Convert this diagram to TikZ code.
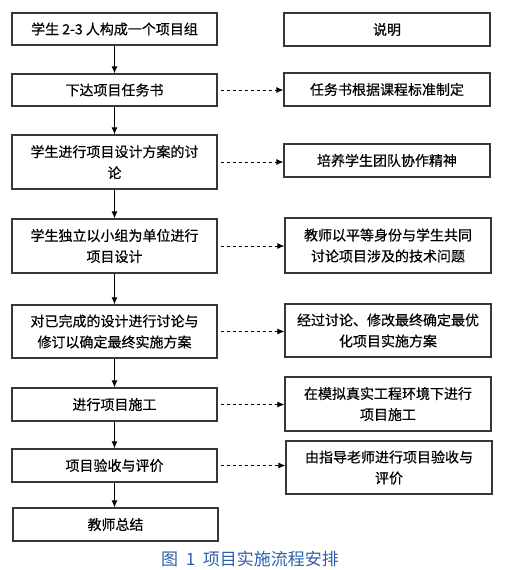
\documentclass[tikz,border=0pt]{standalone}
\usepackage{fontspec}
\newfontfamily\cjk[FakeBold=0.4]{Noto Sans CJK SC}
\newfontfamily\cjkcap{Noto Sans CJK SC}
\usetikzlibrary{arrows.meta, positioning}
\definecolor{boxline}{RGB}{55,55,55}
\definecolor{capblue}{RGB}{45,95,170}

\tikzset{
    stepbox/.style={draw=boxline, line width=1.3pt, fill=white, inner sep=0pt,
        minimum width=205pt, align=center, font=\cjk\fontsize{14}{21}\selectfont},
    notebox/.style={stepbox, minimum width=206pt},
    flow/.style={draw=black, line width=1pt, -{Latex[length=7pt, width=6pt]}},
    hint/.style={draw=black, line width=0.8pt, dash pattern=on 3pt off 3pt,
        -{Latex[length=7pt, width=6pt]}}
}

\begin{document}
\begin{tikzpicture}[x=1pt, y=-1pt]
        \useasboundingbox (0,0) rectangle (511,570);

        % steps
        \node [stepbox, minimum height=32pt] (Ls1) at (114.5,  29)   {学生 2-3 人构成一个项目组};
        \node [stepbox, minimum height=32pt] (Ls2) at (114.5,  90)   {下达项目任务书};
        \node [stepbox, minimum height=54pt] (Ls3) at (114.5, 162)   {学生进行项目设计方案的讨\\论};
        \node [stepbox, minimum height=54pt] (Ls4) at (114.5, 246)   {学生独立以小组为单位进行\\项目设计};
        \node [stepbox, minimum height=53pt] (Ls5) at (114.5, 331.5) {对已完成的设计进行讨论与\\修订以确定最终实施方案};
        \node [stepbox, minimum height=33pt] (Ls6) at (114.5, 404.5) {进行项目施工};
        \node [stepbox, minimum height=33pt] (Ls7) at (114.5, 465.5) {项目验收与评价};
        \node [stepbox, minimum height=33pt] (Ls8) at (115.5, 524.5) {教师总结};

        % notes
        \node [notebox, minimum height=33pt] (Rn1) at (387, 29.5)  {说明};
        \node [notebox, minimum height=33pt] (Rn2) at (387, 89.5)  {任务书根据课程标准制定};
        \node [notebox, minimum height=33pt] (Rn3) at (387, 160.5) {培养学生团队协作精神};
        \node [notebox, minimum height=55pt] (Rn4) at (388, 245.5) {教师以平等身份与学生共同\\讨论项目涉及的技术问题};
        \node [notebox, minimum height=53pt] (Rn5) at (388, 330.5) {经过讨论、修改最终确定最优\\化项目实施方案};
        \node [notebox, minimum height=54pt] (Rn6) at (388, 404)   {在模拟真实工程环境下进行\\项目施工};
        \node [notebox, minimum height=53pt] (Rn7) at (389, 467.5) {由指导老师进行项目验收与\\评价};

        \draw [flow] (Ls1) -- (Ls2);
        \draw [flow] (Ls2) -- (Ls3);
        \draw [flow] (Ls3) -- (Ls4);
        \draw [flow] (Ls4) -- (Ls5);
        \draw [flow] (Ls5) -- (Ls6);
        \draw [flow] (Ls6) -- (Ls7);
        \draw [flow] (Ls7.south) -- (Ls7.south |- Ls8.north);

        \draw [hint] ([xshift=3pt]Ls2.east) -- (Ls2.east -| Rn2.west);
        \draw [hint] ([xshift=3pt]Ls3.east) -- (Ls3.east -| Rn3.west);
        \draw [hint] ([xshift=3pt]Ls4.east) -- (Ls4.east -| Rn4.west);
        \draw [hint] ([xshift=3pt]Ls5.east) -- (Ls5.east -| Rn5.west);
        \draw [hint] ([xshift=3pt]Ls6.east) -- (Ls6.east -| Rn6.west);
        \draw [hint] ([xshift=3pt]Ls7.east) -- (Ls7.east -| Rn7.west);

        \node [text=capblue, font=\cjkcap\fontsize{17}{20}\selectfont] (Cap) at (250, 559) {图\ \ 1\ \ 项目实施流程安排};
    \end{tikzpicture}
\end{document}
